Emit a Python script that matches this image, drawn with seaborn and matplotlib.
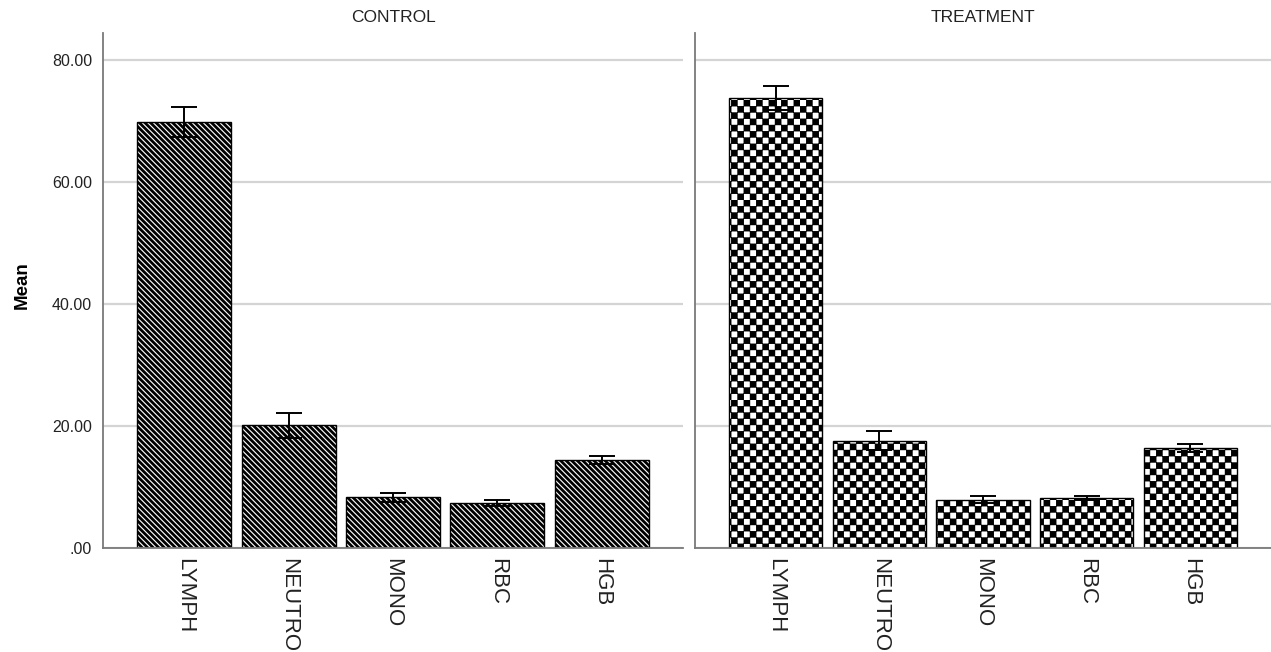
import warnings
import numpy as np
import pandas as pd
import matplotlib
matplotlib.use("Agg")
import matplotlib.pyplot as plt
import matplotlib.hatch as mhatch
from matplotlib.path import Path
from matplotlib.ticker import FuncFormatter
import seaborn as sns

warnings.filterwarnings("ignore")

# ---- data -------------------------------------------------------------
groups = ["CONTROL", "TREATMENT"]
variables = ["LYMPH", "NEUTRO", "MONO", "RBC", "HGB"]
control_means = [69.8, 20.1, 8.3, 7.4, 14.4]
control_errs = [2.4, 2.1, 0.7, 0.5, 0.7]
treatment_means = [73.7, 17.6, 7.9, 8.2, 16.4]
treatment_errs = [2.0, 1.5, 0.6, 0.3, 0.6]
y_ticks = [0, 20, 40, 60, 80]

# ---- a checkerboard fill pattern, selected with the 'c' hatch code ------
HATCH_LW_PT = 2.0
CELLS = 16


class CheckerHatch(mhatch.HatchPatternBase):
    def __init__(self, hatch, density):
        self.on = "c" in hatch
        self.num_vertices = (CELLS * CELLS // 2) * 5 if self.on else 0

    def set_vertices_and_codes(self, vertices, codes):
        s = 1.0 / CELLS
        # the stroke adds half a line width around each square; pull the
        # square in by a little less so neighbouring corners still meet
        shrink = 0.85 * (HATCH_LW_PT / 72.0) / 2.0
        k = 0
        for i in range(CELLS):
            for j in range(CELLS):
                if (i + j) % 2:
                    continue
                x0, y0 = i * s + shrink, j * s + shrink
                x1, y1 = (i + 1) * s - shrink, (j + 1) * s - shrink
                vertices[k:k + 5] = [[x0, y0], [x1, y0], [x1, y1], [x0, y1], [x0, y0]]
                codes[k] = Path.MOVETO
                codes[k + 1:k + 4] = Path.LINETO
                codes[k + 4] = Path.CLOSEPOLY
                k += 5


if CheckerHatch not in mhatch._hatch_types:
    mhatch._hatch_types.append(CheckerHatch)

# ---- style ---------------------------------------------------------------
sns.set_style("white")
plt.rcParams["font.family"] = ["Liberation Sans", "DejaVu Sans"]
plt.rcParams["hatch.linewidth"] = HATCH_LW_PT

W, H = 1271, 652
fig = plt.figure(figsize=(W / 100, H / 100), dpi=100)
bottom = 1 - 548 / H
height = (548 - 33) / H
ax1 = fig.add_axes([103 / W, bottom, 580 / W, height])
ax2 = fig.add_axes([695 / W, bottom, 576 / W, height])

panels = [
    (ax1, groups[0], control_means, control_errs, "\\" * 6),
    (ax2, groups[1], treatment_means, treatment_errs, "c"),
]

grid_color = "#d4d4d4"
axis_color = "#7a7a7a"
text_color = "#222222"

for ax, name, means, errs, hatch in panels:
    df = pd.DataFrame({"variable": variables, "mean": means})
    sns.barplot(data=df, x="variable", y="mean", order=variables,
                color="white", width=0.9, errorbar=None,
                edgecolor="black", linewidth=1.0, ax=ax, zorder=2)
    for patch in ax.patches:
        patch.set_facecolor("white")
        patch.set_edgecolor("black")
        patch.set_hatch(hatch)
    ax.errorbar(np.arange(len(variables)), means, yerr=errs, fmt="none",
                ecolor="black", elinewidth=1.4, capsize=9.5, capthick=1.4,
                zorder=3)

    ax.set_xlim(-0.78, 4.78)
    ax.set_ylim(0, 84.4)
    ax.set_yticks(y_ticks)
    ax.yaxis.grid(True, color=grid_color, linewidth=1.6, zorder=0)
    ax.set_axisbelow(True)
    for side in ("top", "right"):
        ax.spines[side].set_visible(False)
    for side in ("left", "bottom"):
        ax.spines[side].set_color(axis_color)
        ax.spines[side].set_linewidth(1.3)
    ax.tick_params(axis="both", length=0, colors=text_color)
    ax.tick_params(axis="x", labelsize=16, pad=7)
    ax.tick_params(axis="y", labelsize=11.5, pad=8)
    for lbl in ax.get_xticklabels():
        lbl.set_rotation(270)
        lbl.set_ha("center")
        lbl.set_va("top")
    ax.set_xlabel("")
    ax.set_ylabel("")
    ax.set_title(name, fontsize=12.5, pad=8, color=text_color)

ax1.yaxis.set_major_formatter(
    FuncFormatter(lambda v, p: f"{v:.2f}".lstrip("0") if v == 0 else f"{v:.2f}"))
ax2.tick_params(axis="y", labelleft=False)

ax1.set_ylabel("Mean", fontsize=13.5, fontweight="bold", color="black")
ax1.yaxis.set_label_coords(-0.124, 0.51)

fig.savefig("out.png", dpi=100)
